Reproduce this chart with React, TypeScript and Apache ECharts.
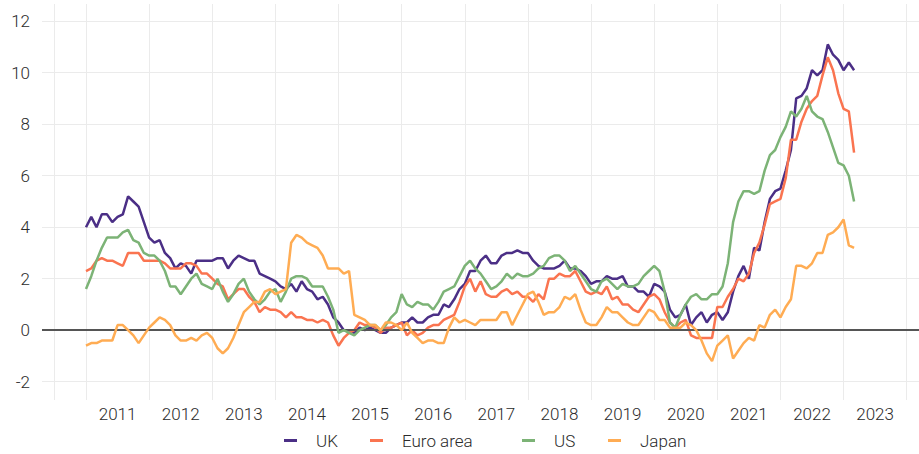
import React, { useEffect, useRef } from "react";
import * as echarts from "echarts";

const START_YEAR = 2011;

const UK = [
  4.0, 4.4, 4.0, 4.5, 4.5, 4.2, 4.4, 4.5, 5.2, 5.0, 4.8, 4.2,
  3.6, 3.4, 3.5, 3.0, 2.8, 2.4, 2.6, 2.5, 2.2, 2.7, 2.7, 2.7,
  2.7, 2.8, 2.8, 2.4, 2.7, 2.9, 2.8, 2.7, 2.7, 2.2, 2.1, 2.0,
  1.9, 1.7, 1.6, 1.8, 1.5, 1.9, 1.6, 1.5, 1.2, 1.3, 1.0, 0.5,
  0.3, 0.0, 0.0, -0.1, 0.1, 0.0, 0.1, 0.0, -0.1, -0.1, 0.1, 0.2,
  0.3, 0.3, 0.5, 0.3, 0.3, 0.5, 0.6, 0.6, 1.0, 0.9, 1.2, 1.6,
  1.8, 2.3, 2.3, 2.7, 2.9, 2.6, 2.6, 2.9, 3.0, 3.0, 3.1, 3.0,
  3.0, 2.7, 2.5, 2.4, 2.4, 2.4, 2.5, 2.7, 2.4, 2.4, 2.3, 2.1,
  1.8, 1.9, 1.9, 2.1, 2.0, 2.0, 2.1, 1.7, 1.7, 1.5, 1.5, 1.3,
  1.8, 1.7, 1.5, 0.8, 0.5, 0.6, 1.0, 0.2, 0.5, 0.7, 0.3, 0.6,
  0.7, 0.4, 0.7, 1.5, 2.1, 2.5, 2.0, 3.2, 3.1, 4.2, 5.1, 5.4,
  5.5, 6.2, 7.0, 9.0, 9.1, 9.4, 10.1, 9.9, 10.1, 11.1, 10.7, 10.5,
  10.1, 10.4, 10.1,
];

const EURO_AREA = [
  2.3, 2.4, 2.7, 2.8, 2.7, 2.7, 2.6, 2.5, 3.0, 3.0, 3.0, 2.7,
  2.7, 2.7, 2.7, 2.6, 2.4, 2.4, 2.4, 2.6, 2.6, 2.5, 2.2, 2.2,
  2.0, 1.8, 1.7, 1.2, 1.4, 1.6, 1.6, 1.3, 1.1, 0.7, 0.9, 0.8,
  0.8, 0.7, 0.5, 0.7, 0.5, 0.5, 0.4, 0.4, 0.3, 0.4, 0.3, -0.2,
  -0.6, -0.3, -0.1, 0.0, 0.3, 0.2, 0.2, 0.1, -0.1, 0.1, 0.1, 0.2,
  0.3, -0.2, 0.0, -0.2, -0.1, 0.1, 0.2, 0.2, 0.4, 0.5, 0.6, 1.1,
  1.7, 2.0, 1.5, 1.9, 1.4, 1.3, 1.3, 1.5, 1.6, 1.4, 1.5, 1.3,
  1.3, 1.1, 1.4, 1.2, 2.0, 2.0, 2.2, 2.1, 2.1, 2.3, 1.9, 1.5,
  1.4, 1.5, 1.4, 1.7, 1.2, 1.3, 1.0, 1.0, 0.8, 0.7, 1.0, 1.3,
  1.4, 1.2, 0.7, 0.3, 0.1, 0.3, 0.4, -0.2, -0.3, -0.3, -0.3, -0.3,
  0.9, 0.9, 1.3, 1.6, 2.0, 1.9, 2.2, 3.0, 3.4, 4.1, 4.9, 5.0,
  5.1, 5.9, 7.4, 7.4, 8.1, 8.6, 8.9, 9.1, 9.9, 10.6, 10.1, 9.2,
  8.6, 8.5, 6.9,
];

const US = [
  1.6, 2.1, 2.7, 3.2, 3.6, 3.6, 3.6, 3.8, 3.9, 3.5, 3.4, 3.0,
  2.9, 2.9, 2.7, 2.3, 1.7, 1.7, 1.4, 1.7, 2.0, 2.2, 1.8, 1.7,
  1.6, 2.0, 1.5, 1.1, 1.4, 1.8, 2.0, 1.5, 1.2, 1.0, 1.2, 1.5,
  1.6, 1.1, 1.5, 2.0, 2.1, 2.1, 2.0, 1.7, 1.7, 1.7, 1.3, 0.8,
  -0.1, 0.0, -0.1, -0.2, 0.0, 0.1, 0.2, 0.2, 0.0, 0.2, 0.5, 0.7,
  1.4, 1.0, 0.9, 1.1, 1.0, 1.0, 0.8, 1.1, 1.5, 1.6, 1.7, 2.1,
  2.5, 2.7, 2.4, 2.2, 1.9, 1.6, 1.7, 1.9, 2.2, 2.0, 2.2, 2.1,
  2.1, 2.2, 2.4, 2.5, 2.8, 2.9, 2.9, 2.7, 2.3, 2.5, 2.2, 1.9,
  1.6, 1.5, 1.9, 2.0, 1.8, 1.6, 1.8, 1.7, 1.7, 1.8, 2.1, 2.3,
  2.5, 2.3, 1.5, 0.3, 0.1, 0.6, 1.0, 1.3, 1.4, 1.2, 1.2, 1.4,
  1.4, 1.7, 2.6, 4.2, 5.0, 5.4, 5.4, 5.3, 5.4, 6.2, 6.8, 7.0,
  7.5, 7.9, 8.5, 8.3, 8.6, 9.1, 8.5, 8.3, 8.2, 7.7, 7.1, 6.5,
  6.4, 6.0, 5.0,
];

const JAPAN = [
  -0.6, -0.5, -0.5, -0.4, -0.4, -0.4, 0.2, 0.2, 0.0, -0.2, -0.5, -0.2,
  0.1, 0.3, 0.5, 0.4, 0.2, -0.2, -0.4, -0.4, -0.3, -0.4, -0.2, -0.1,
  -0.3, -0.7, -0.9, -0.7, -0.3, 0.2, 0.7, 0.9, 1.1, 1.1, 1.5, 1.6,
  1.4, 1.5, 1.6, 3.4, 3.7, 3.6, 3.4, 3.3, 3.2, 2.9, 2.4, 2.4,
  2.4, 2.2, 2.3, 0.6, 0.5, 0.4, 0.2, 0.2, 0.0, 0.3, 0.3, 0.2,
  0.0, 0.3, -0.1, -0.3, -0.5, -0.4, -0.4, -0.5, -0.5, 0.1, 0.5, 0.3,
  0.4, 0.3, 0.2, 0.4, 0.4, 0.4, 0.4, 0.7, 0.7, 0.2, 0.6, 1.0,
  1.4, 1.5, 1.1, 0.6, 0.7, 0.7, 0.9, 1.3, 1.2, 1.4, 0.8, 0.3,
  0.2, 0.2, 0.5, 0.9, 0.7, 0.7, 0.5, 0.3, 0.2, 0.2, 0.5, 0.8,
  0.7, 0.4, 0.4, 0.1, 0.1, 0.1, 0.3, 0.2, 0.0, -0.4, -0.9, -1.2,
  -0.6, -0.4, -0.2, -1.1, -0.8, -0.5, -0.3, -0.4, 0.2, 0.1, 0.6, 0.8,
  0.5, 0.9, 1.2, 2.5, 2.5, 2.4, 2.6, 3.0, 3.0, 3.7, 3.8, 4.0,
  4.3, 3.3, 3.2,
];

const YEAR_LABELS = [
  "2011", "2012", "2013", "2014", "2015", "2016", "2017",
  "2018", "2019", "2020", "2021", "2022", "2023",
];
const X_GRID_VALUES = [
  2010.5, 2011, 2012, 2013, 2014, 2015, 2016, 2017, 2018, 2019,
  2020, 2021, 2022, 2023, 2024,
];
const Y_TICKS = [-2, 0, 2, 4, 6, 8, 10, 12];

const SERIES_NAMES = ["UK", "Euro area", "US", "Japan"];
const SERIES_VALUES = [UK, EURO_AREA, US, JAPAN];
const COLORS = ["#4b2f86", "#fa7450", "#7cb376", "#ffac53"];
const LEGEND_LEFT = [279, 365, 517, 603];

const FONT = "Roboto, 'Noto Sans', sans-serif";

export default function App() {
  const ref = useRef<HTMLDivElement>(null);

  useEffect(() => {
    if (!ref.current) return;
    const chart = echarts.init(ref.current, undefined, { renderer: "svg" });

    const toPairs = (vals: number[]) =>
      vals.map((v, i) => [START_YEAR + i / 12, v]);

    const series: any[] = SERIES_NAMES.map((name, k) => ({
      name,
      type: "line",
      data: toPairs(SERIES_VALUES[k]),
      showSymbol: false,
      symbol: "none",
      lineStyle: { color: COLORS[k], width: 2.5 },
      itemStyle: { color: COLORS[k] },
      z: 3 + k,
    }));

    series.unshift({
      name: "__zero",
      type: "line",
      data: [],
      silent: true,
      z: 2,
      markLine: {
        silent: true,
        symbol: ["none", "none"],
        label: { show: false },
        lineStyle: { color: "#555555", width: 2, type: "solid" },
        data: [{ yAxis: 0 }],
      },
    });

    const legends = SERIES_NAMES.map((name, k) => ({
      data: [name],
      left: LEGEND_LEFT[k],
      top: 427,
      icon: "rect",
      itemWidth: 13,
      itemHeight: 3,
      selectedMode: false,
      textStyle: {
        fontFamily: FONT,
        fontSize: 17,
        fontWeight: 300,
        color: "#2b2b2b",
        padding: [0, 0, 0, 14],
      },
    }));

    chart.setOption({
      animation: false,
      backgroundColor: "#ffffff",
      grid: { left: 42, right: 0, top: 4, bottom: 54, containLabel: false },
      legend: legends,
      xAxis: {
        type: "value",
        min: 2010.303,
        max: 2024.195,
        axisLine: { show: false },
        axisTick: { show: false, customValues: X_GRID_VALUES },
        splitLine: { show: true, lineStyle: { color: "#ebebeb", width: 1 } },
        axisLabel: {
          customValues: YEAR_LABELS.map((_, i) => START_YEAR + i + 0.5),
          formatter: (v: number) => YEAR_LABELS[Math.round(v - START_YEAR - 0.5)] ?? "",
          fontFamily: FONT,
          fontSize: 17,
          fontWeight: 300,
          color: "#2b2b2b",
          margin: 5,
        },
      },
      yAxis: {
        type: "value",
        min: -2.71,
        max: 12.67,
        axisLine: { show: false },
        axisTick: { show: false, customValues: Y_TICKS },
        splitLine: { show: true, lineStyle: { color: "#ebebeb", width: 1 } },
        axisLabel: {
          customValues: Y_TICKS,
          fontFamily: FONT,
          fontSize: 17,
          fontWeight: 300,
          color: "#2b2b2b",
          margin: 12,
        },
      },
      series,
    });

    return () => chart.dispose();
  }, []);

  return (
    <div
      ref={ref}
      style={{ position: "absolute", left: 0, top: 0, width: 919, height: 454 }}
    />
  );
}
